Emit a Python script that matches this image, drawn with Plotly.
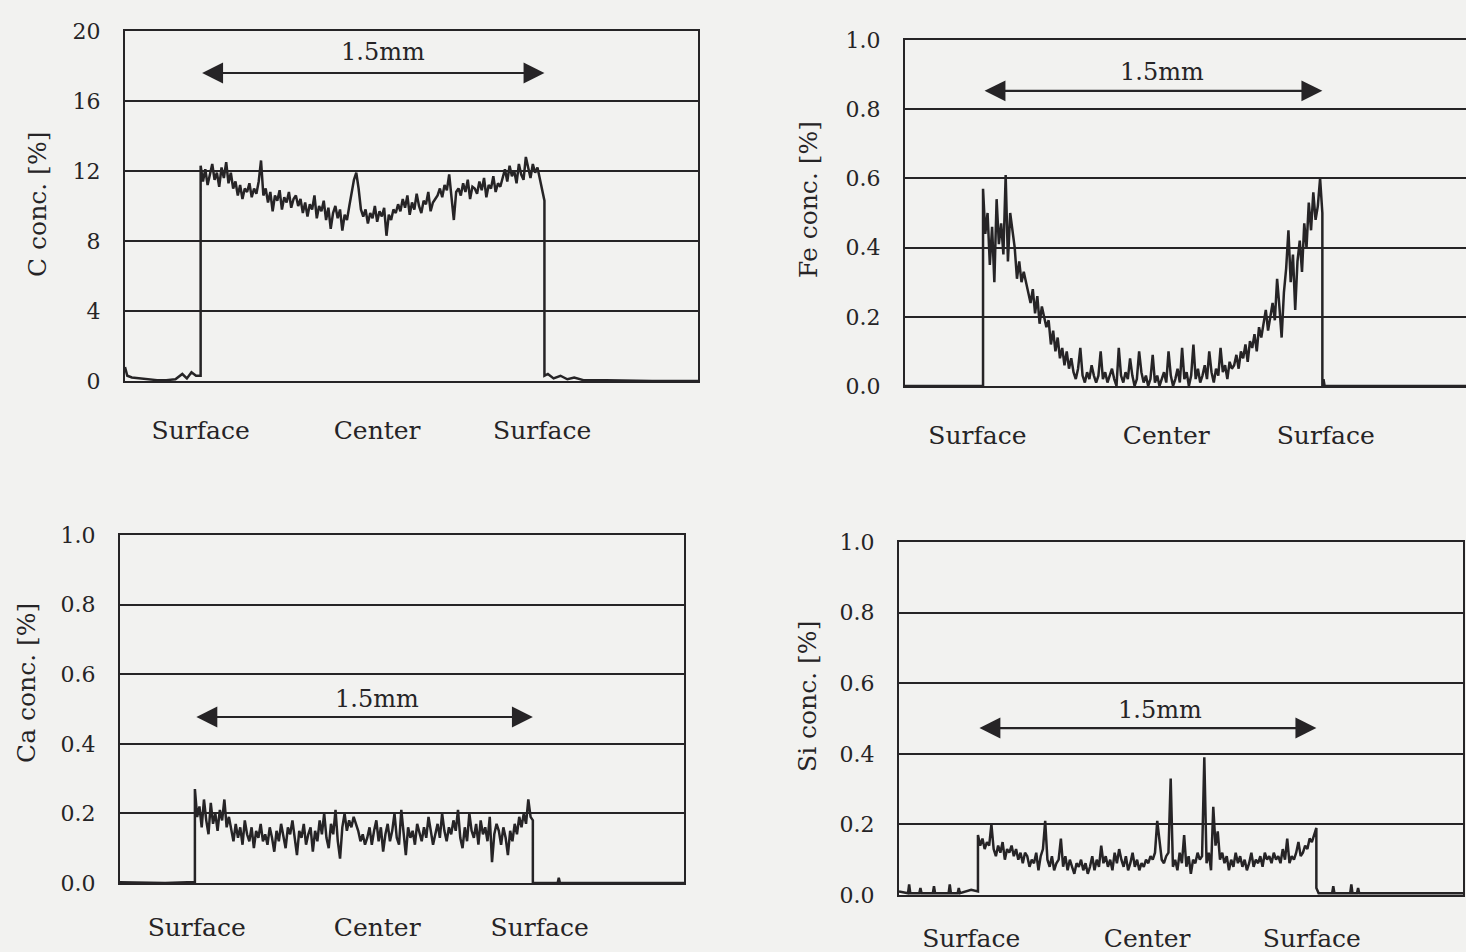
import numpy as np
import plotly.graph_objects as go

W, H = 1466, 952
FONT = "DejaVu Serif"
INK = "#262426"
PAPER = "#f2f2f0"

# ---------------- data (mm positions, concentrations in %) ----------------
C_SURF = (0.33, 1.83)
FE_SURF = (0.345, 1.845)
CA_SURF = (0.332, 1.83)
SI_SURF = (0.35, 1.85)

C_CORE = [12.3, 11.4, 12.1, 11.2, 11.8, 12.4, 11.5, 11.9, 11.1, 12.2, 11.6, 12.5, 11.3, 11.9, 11.0,
          11.4, 10.6, 11.2, 10.4, 11.0, 10.8, 11.3, 10.5, 11.0, 10.7, 11.4, 12.6,
          10.6, 11.0, 10.2, 10.8, 9.7, 10.6, 10.3, 10.9, 9.8, 10.5, 10.2, 10.8, 9.9, 10.4, 10.6,
          10.0, 10.4, 9.6, 10.2, 9.4, 10.1, 9.8, 10.6, 9.3, 10.0, 9.7, 10.3, 9.2, 9.9, 8.7, 9.6,
          10.0, 9.3, 9.8, 8.6, 9.5, 9.2,
          10.0, 10.8, 11.5, 11.9, 11.0, 9.8,
          9.4, 9.8, 9.0, 9.6, 9.3, 10.0, 9.1, 9.7, 9.4, 9.9, 8.3, 9.5, 9.2, 9.8, 9.6,
          10.1, 9.7, 10.4, 9.9, 10.6, 9.5, 10.2, 9.8, 10.7, 10.0, 9.6, 10.3, 10.1, 10.8, 9.7, 10.2, 10.4,
          10.6, 11.0, 10.5, 11.2, 10.9, 11.8, 10.4, 9.2, 10.8,
          11.0, 10.6, 11.3, 10.8, 11.5, 10.4, 11.1, 11.0, 10.7, 11.4, 10.9, 11.6, 10.5, 11.2, 11.0,
          11.7, 10.8, 11.3, 11.1,
          11.6, 12.1, 11.4, 12.3, 11.7, 12.0, 11.3, 12.4, 11.8, 11.5, 12.8,
          12.1, 11.6, 12.4, 11.9, 12.2, 11.5, 11.0, 10.3]
C_LEFT_X = [0.0, 0.01, 0.03, 0.06, 0.10, 0.14, 0.18, 0.22, 0.25, 0.27, 0.29, 0.31, 0.33]
C_LEFT_Y = [0.8, 0.3, 0.2, 0.15, 0.1, 0.05, 0.05, 0.1, 0.4, 0.15, 0.5, 0.3, 0.3]
C_RIGHT_X = [1.83, 1.845, 1.87, 1.90, 1.93, 1.96, 2.0, 2.1, 2.3, 2.5]
C_RIGHT_Y = [0.3, 0.4, 0.15, 0.3, 0.1, 0.2, 0.05, 0.05, 0.0, 0.0]

FE_CORE = [0.57, 0.44, 0.50, 0.35, 0.46, 0.30, 0.54, 0.41, 0.47, 0.38, 0.61, 0.36, 0.50, 0.44,
           0.40, 0.31, 0.36, 0.30, 0.33,
           0.30, 0.27, 0.24, 0.28, 0.21, 0.26, 0.18, 0.23, 0.20, 0.17,
           0.19, 0.12, 0.16, 0.10, 0.14, 0.08, 0.11, 0.06, 0.10, 0.05, 0.08,
           0.04, 0.02, 0.05, 0.11, 0.03, 0.01, 0.04, 0.02, 0.06, 0.03,
           0.01, 0.03, 0.10, 0.02, 0.04, 0.01, 0.03, 0.05, 0.02, 0.00,
           0.11, 0.03, 0.01, 0.04, 0.02, 0.08, 0.03, 0.00, 0.02, 0.10,
           0.04, 0.01, 0.03, 0.00, 0.02, 0.09, 0.01, 0.03, 0.00, 0.02,
           0.04, 0.01, 0.10, 0.03, 0.00, 0.02, 0.05, 0.01, 0.11, 0.02,
           0.04, 0.00, 0.03, 0.12, 0.02, 0.05, 0.01, 0.03, 0.06, 0.02,
           0.10, 0.04, 0.01, 0.05, 0.03, 0.11, 0.04, 0.06, 0.02, 0.07, 0.05,
           0.06, 0.09, 0.05, 0.10, 0.08, 0.12, 0.07, 0.13, 0.11, 0.15, 0.10, 0.17, 0.14,
           0.18, 0.22, 0.16, 0.20, 0.24, 0.19, 0.31, 0.23, 0.14, 0.27,
           0.34, 0.45, 0.30, 0.38, 0.22, 0.36, 0.42, 0.33,
           0.47, 0.40, 0.53, 0.45, 0.56, 0.48, 0.52, 0.60, 0.50]
FE_LEFT_X = [0.0, 0.345]
FE_LEFT_Y = [0.0, 0.0]
FE_RIGHT_X = [1.845, 1.85, 1.855, 2.48]
FE_RIGHT_Y = [0.0, 0.02, 0.0, 0.0]

CA_CORE = [0.27, 0.19, 0.22, 0.16, 0.24, 0.18, 0.14, 0.23, 0.17, 0.20, 0.15, 0.21, 0.18, 0.24, 0.16, 0.19,
           0.15, 0.12, 0.17, 0.13, 0.16, 0.11, 0.18, 0.14, 0.12, 0.16, 0.10, 0.15, 0.13, 0.17,
           0.12, 0.14, 0.11, 0.16, 0.13, 0.09, 0.15, 0.12, 0.17, 0.13, 0.10, 0.16, 0.14, 0.18,
           0.12, 0.08, 0.15, 0.13, 0.17, 0.11, 0.14, 0.16, 0.09, 0.15, 0.12, 0.18, 0.14, 0.20,
           0.13, 0.10, 0.17, 0.14, 0.21, 0.12, 0.07, 0.16, 0.20, 0.15, 0.18, 0.16, 0.19, 0.17,
           0.15, 0.12, 0.14, 0.11,
           0.13, 0.16, 0.11, 0.15, 0.18, 0.12, 0.16, 0.09, 0.14, 0.17, 0.12, 0.15, 0.20, 0.13,
           0.11, 0.21, 0.14, 0.08, 0.16, 0.13, 0.15, 0.11, 0.17, 0.14, 0.12, 0.16, 0.13, 0.19,
           0.15, 0.11, 0.14, 0.17, 0.13, 0.20, 0.15, 0.12, 0.16, 0.14, 0.18, 0.15, 0.21, 0.13,
           0.10, 0.16, 0.12, 0.20, 0.15, 0.13, 0.17, 0.11, 0.18, 0.14, 0.16, 0.12, 0.19, 0.06,
           0.14, 0.17, 0.15, 0.11, 0.16, 0.13, 0.08, 0.15, 0.12, 0.17, 0.14, 0.19,
           0.16, 0.20, 0.17, 0.24, 0.19, 0.18]
CA_LEFT_X = [0.0, 0.2, 0.332]
CA_LEFT_Y = [0.002, 0.0, 0.003]
CA_RIGHT_X = [1.83, 1.94, 1.945, 1.95, 2.5]
CA_RIGHT_Y = [0.0, 0.0, 0.015, 0.0, 0.0]

SI_CORE = [0.17, 0.14, 0.16, 0.13, 0.15, 0.14, 0.20,
           0.13, 0.11, 0.14, 0.12, 0.15, 0.10, 0.13, 0.12, 0.14, 0.11, 0.13, 0.10, 0.12, 0.09,
           0.12, 0.11, 0.08, 0.10,
           0.09, 0.12, 0.07, 0.11, 0.13, 0.21,
           0.10, 0.08, 0.11, 0.07, 0.09, 0.10, 0.16, 0.08, 0.11, 0.07, 0.10, 0.08, 0.06, 0.09,
           0.08, 0.10, 0.07, 0.09, 0.06, 0.08, 0.11, 0.07, 0.10, 0.08, 0.14, 0.09, 0.11, 0.08,
           0.10, 0.07, 0.12, 0.09, 0.13, 0.10, 0.08, 0.11, 0.07, 0.09, 0.12, 0.08, 0.10, 0.07,
           0.09, 0.08, 0.10, 0.09, 0.11, 0.10,
           0.12, 0.21, 0.15, 0.10, 0.09, 0.11,
           0.12, 0.33, 0.08,
           0.10, 0.07, 0.12, 0.09, 0.17, 0.08, 0.11, 0.06, 0.10, 0.09, 0.12, 0.10,
           0.11, 0.39, 0.09, 0.12, 0.07, 0.25, 0.14, 0.18, 0.10,
           0.12, 0.09, 0.11, 0.07, 0.10, 0.08, 0.12, 0.09, 0.11, 0.08, 0.10, 0.07, 0.09, 0.12,
           0.08, 0.10, 0.09, 0.11, 0.08, 0.12, 0.10, 0.11, 0.09, 0.12, 0.10, 0.11, 0.09, 0.13,
           0.10, 0.16, 0.09, 0.11, 0.10, 0.12, 0.15, 0.11,
           0.12, 0.14, 0.13, 0.16, 0.15, 0.17, 0.19]
SI_LEFT_X = [0.0, 0.04, 0.045, 0.05, 0.09, 0.095, 0.10, 0.15, 0.155, 0.16, 0.22, 0.225, 0.23,
             0.26, 0.265, 0.27, 0.32, 0.35]
SI_LEFT_Y = [0.01, 0.005, 0.03, 0.005, 0.005, 0.02, 0.005, 0.005, 0.025, 0.005, 0.005, 0.03, 0.005,
             0.005, 0.02, 0.005, 0.015, 0.01]
SI_RIGHT_X = [1.85, 1.86, 1.92, 1.925, 1.93, 2.0, 2.005, 2.01, 2.03, 2.035, 2.04, 2.5]
SI_RIGHT_Y = [0.02, 0.005, 0.005, 0.025, 0.005, 0.005, 0.03, 0.005, 0.005, 0.02, 0.005, 0.005]

X_LABELS = ["Surface", "Center", "Surface"]
Y_TITLES = ["C conc. [%]", "Fe conc. [%]", "Ca conc. [%]", "Si conc. [%]"]
ARROW_TEXT = "1.5mm"


def px_x(p):
    return p / W


def px_y(p):
    return 1 - p / H


panels = [
    dict(core=C_CORE, surf=C_SURF, lx=C_LEFT_X, ly=C_LEFT_Y, rx=C_RIGHT_X, ry=C_RIGHT_Y,
         dom_x=(125, 698), dom_y=(31, 381), xr=(0, 2.5), yr=(0, 20), dt=4, fmt="d",
         xt=[0.33, 1.10, 1.82], xtl=26, arrow_y=17.6, text_y=18.8, text_x=1.127,
         title_pos=(37, 205), mirror_y=True),
    dict(core=FE_CORE, surf=FE_SURF, lx=FE_LEFT_X, ly=FE_LEFT_Y, rx=FE_RIGHT_X, ry=FE_RIGHT_Y,
         dom_x=(905, 1466), dom_y=(40, 386), xr=(0, 2.48), yr=(0, 1), dt=0.2, fmt=".1f",
         xt=[0.32, 1.155, 1.86], xtl=26, arrow_y=0.853, text_y=0.908, text_x=1.137,
         title_pos=(808, 200), mirror_y=False),
    dict(core=CA_CORE, surf=CA_SURF, lx=CA_LEFT_X, ly=CA_LEFT_Y, rx=CA_RIGHT_X, ry=CA_RIGHT_Y,
         dom_x=(120, 684), dom_y=(535, 883), xr=(0, 2.5), yr=(0, 1), dt=0.2, fmt=".1f",
         xt=[0.34, 1.14, 1.86], xtl=21, arrow_y=0.477, text_y=0.53, text_x=1.139,
         title_pos=(26, 683), mirror_y=True),
    dict(core=SI_CORE, surf=SI_SURF, lx=SI_LEFT_X, ly=SI_LEFT_Y, rx=SI_RIGHT_X, ry=SI_RIGHT_Y,
         dom_x=(899, 1463), dom_y=(542, 895), xr=(0, 2.5), yr=(0, 1), dt=0.2, fmt=".1f",
         xt=[0.32, 1.10, 1.83], xtl=20, arrow_y=0.473, text_y=0.524, text_x=1.157,
         title_pos=(807, 697), mirror_y=True),
]

fig = go.Figure()
annotations = []
layout = {}

for i, p in enumerate(panels):
    k = "" if i == 0 else str(i + 1)
    xa, ya = "x" + k, "y" + k
    core_x = list(np.linspace(p["surf"][0], p["surf"][1], len(p["core"])))
    xs = list(p["lx"]) + core_x + list(p["rx"])
    ys = list(p["ly"]) + list(p["core"]) + list(p["ry"])
    fig.add_trace(go.Scatter(x=xs, y=ys, mode="lines", xaxis=xa, yaxis=ya,
                             line=dict(color=INK, width=2.5), showlegend=False,
                             hoverinfo="skip"))
    layout["xaxis" + k] = dict(
        domain=[px_x(p["dom_x"][0]), px_x(p["dom_x"][1])],
        range=list(p["xr"]), anchor=ya, showgrid=False, zeroline=False, automargin=False,
        showline=True, linecolor=INK, linewidth=2, mirror=True,
        tickmode="array", tickvals=p["xt"], ticktext=X_LABELS,
        ticks="outside", ticklen=p["xtl"], tickcolor="rgba(0,0,0,0)",
        tickfont=dict(family=FONT, size=25, color=INK), fixedrange=True)
    layout["yaxis" + k] = dict(
        domain=[px_y(p["dom_y"][1]), px_y(p["dom_y"][0])],
        range=list(p["yr"]), anchor=xa, dtick=p["dt"], tick0=0, tickformat=p["fmt"],
        showgrid=True, gridcolor=INK, gridwidth=1.6, zeroline=False, automargin=False,
        showline=True, linecolor=INK, linewidth=2, mirror=p["mirror_y"],
        ticks="outside", ticklen=18, tickcolor="rgba(0,0,0,0)",
        tickfont=dict(family=FONT, size=22, color=INK), fixedrange=True)
    # 1.5 mm double arrow
    annotations.append(dict(
        x=p["surf"][1], y=p["arrow_y"], ax=p["surf"][0], ay=p["arrow_y"],
        xref=xa, yref=ya, axref=xa, ayref=ya, text="", showarrow=True,
        arrowhead=2, startarrowhead=2, arrowside="end+start", arrowsize=1.9,
        startarrowsize=1.9, arrowwidth=2.2, arrowcolor=INK))
    annotations.append(dict(
        x=p["text_x"], y=p["text_y"], xref=xa, yref=ya, text=ARROW_TEXT, showarrow=False,
        font=dict(family=FONT, size=24, color=INK), xanchor="center", yanchor="middle"))
    # rotated y-axis title
    annotations.append(dict(
        x=px_x(p["title_pos"][0]), y=px_y(p["title_pos"][1]), xref="paper", yref="paper",
        text=Y_TITLES[i], textangle=-90, showarrow=False,
        font=dict(family=FONT, size=25, color=INK), xanchor="center", yanchor="middle"))

fig.update_layout(
    width=W, height=H, margin=dict(l=0, r=0, t=0, b=0, autoexpand=False),
    paper_bgcolor=PAPER, plot_bgcolor=PAPER, showlegend=False,
    annotations=annotations, **layout)

fig.write_html("out.html", config={"displayModeBar": False},
               post_script="document.body.style.margin='0';"
                           "document.body.style.background='%s';" % PAPER)
